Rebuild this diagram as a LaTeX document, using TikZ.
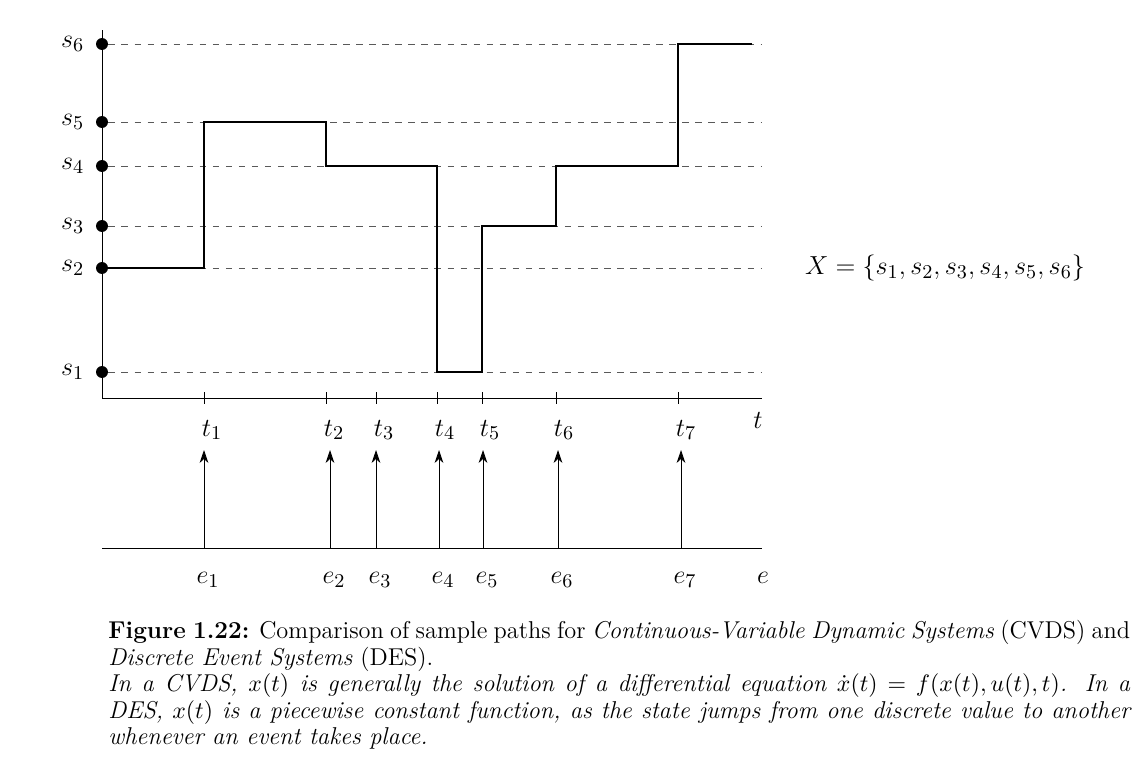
\documentclass[tikz,border=0pt]{standalone}
\usetikzlibrary{arrows.meta}
\begin{document}
\begin{tikzpicture}[x=0.46pt,y=-0.46pt,
  dashline/.style={dashed,gray!70!black,thin},
  dotn/.style={circle,fill=black,inner sep=0pt,minimum size=5.5pt},
  lab/.style={font=\fontsize{13}{15}\selectfont},
  evarrow/.style={-{Stealth[length=6pt,width=4pt]},thin}]
\useasboundingbox (0,0) rectangle (1147,783);
% axes
\coordinate (o) at (102,398);
\coordinate (top) at (102,30);
\coordinate (xend) at (762,398);
\draw[thin] (top) -- (o) -- (xend);
\foreach \n/\y in {6/44,5/122,4/166,3/226,2/268,1/372}{
  \node[dotn] (d\n) at (102,\y) {};
  \coordinate (r\n) at (762,\y);
  \draw[dashline] (d\n) -- (r\n);
  \node[lab,anchor=east] (sl\n) at (92,\y) {$s_{\n}$};
}
% path
\draw[thick] (102,268) -- (204,268) -- (204,122) -- (326,122) -- (326,166) -- (437,166) -- (437,372) -- (482,372) -- (482,226) -- (556,226) -- (556,166) -- (678,166) -- (678,44) -- (752,44);
% ticks and labels
\foreach \i/\x in {1/204,2/326,3/376,4/437,5/482,6/556,7/678}{
  \draw[thin] (\x,392) -- (\x,404);
  \node[lab] (tl\i) at (\x+8,430) {$t_{\i}$};
}
\node[lab] (tlab) at (758,420) {$t$};
% event line
\coordinate (el) at (102,548);
\coordinate (er) at (762,548);
\draw[thin] (el) -- (er);
\foreach \i/\x in {1/204,2/330,3/376,4/439,5/483,6/558,7/681}{
  \coordinate (eb\i) at (\x,548);
  \coordinate (et\i) at (\x,450);
  \draw[evarrow] (eb\i) -- (et\i);
  \node[lab] (elab\i) at (\x+4,580) {$e_{\i}$};
}
\node[lab] (elab) at (763,578) {$e$};
\node[lab] (X) at (945,268) {$X=\{s_1,s_2,s_3,s_4,s_5,s_6\}$};
% caption
\node[anchor=north west,inner sep=0pt,text width=470pt,align=justify,font=\fontsize{11.2}{12.2}\selectfont] (cap) at (108,620) {%
\textbf{Figure 1.22:} Comparison of sample paths for \textit{Continuous-Variable Dynamic Systems} (CVDS) and \textit{Discrete Event Systems} (DES).\par
\textit{In a CVDS, $x(t)$ is generally the solution of a differential equation $\dot x(t)=f(x(t),u(t),t)$. In a DES, $x(t)$ is a piecewise constant function, as the state jumps from one discrete value to another whenever an event takes place.}};
\end{tikzpicture}
\end{document}
